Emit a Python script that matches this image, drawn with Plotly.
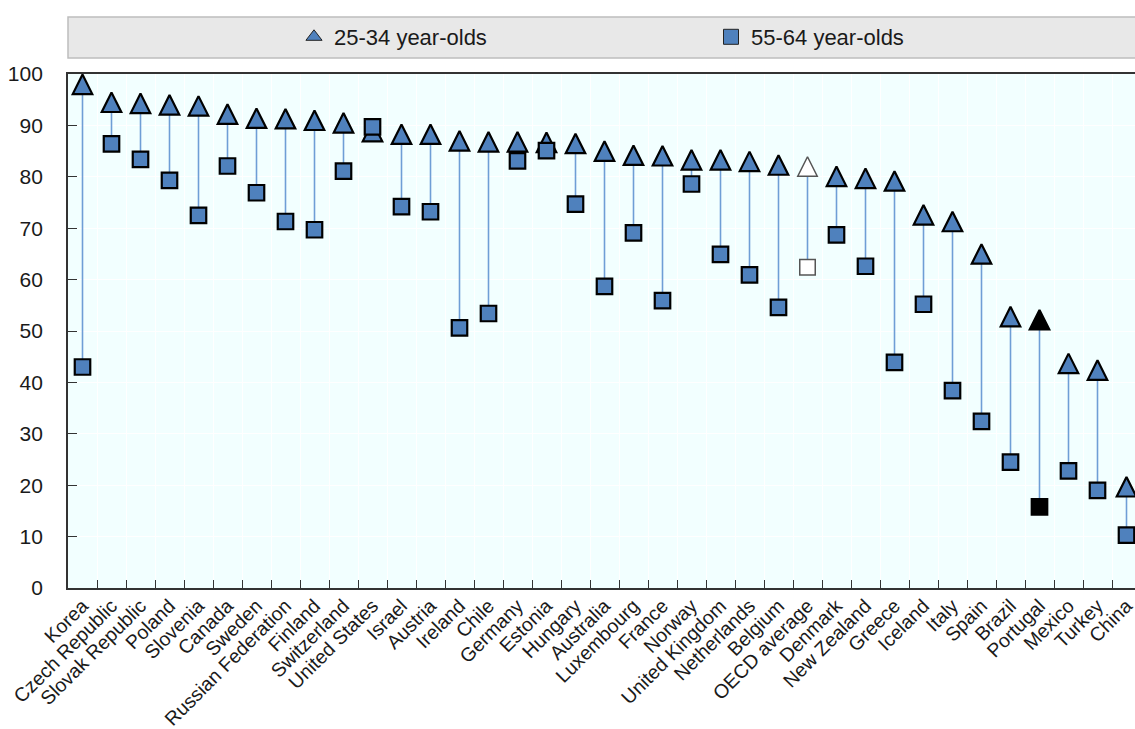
import plotly.graph_objects as go

countries = ["Korea", "Czech Republic", "Slovak Republic", "Poland", "Slovenia", "Canada",
             "Sweden", "Russian Federation", "Finland", "Switzerland", "United States",
             "Israel", "Austria", "Ireland", "Chile", "Germany", "Estonia", "Hungary",
             "Australia", "Luxembourg", "France", "Norway", "United Kingdom", "Netherlands",
             "Belgium", "OECD average", "Denmark", "New Zealand", "Greece", "Iceland",
             "Italy", "Spain", "Brazil", "Portugal", "Mexico", "Turkey", "China"]

age_25_34 = [98.0, 94.5, 94.3, 94.0, 93.8, 92.2, 91.4, 91.3, 91.0, 90.5, 88.8,
             88.3, 88.3, 87.0, 86.8, 86.8, 86.7, 86.5, 85.0, 84.2, 84.1, 83.3,
             83.3, 83.0, 82.3, 82.0, 80.1, 79.7, 79.2, 72.6, 71.3, 65.0, 52.8,
             52.2, 43.7, 42.4, 19.7]

age_55_64 = [43.0, 86.4, 83.4, 79.3, 72.5, 82.1, 76.9, 71.3, 69.7, 81.1, 89.7,
             74.2, 73.2, 50.6, 53.4, 83.1, 85.1, 74.7, 58.7, 69.1, 55.9, 78.6,
             64.9, 60.9, 54.6, 62.4, 68.7, 62.6, 43.9, 55.2, 38.4, 32.4, 24.5,
             15.8, 22.8, 19.0, 10.3]

y_ticks = [0, 10, 20, 30, 40, 50, 60, 70, 80, 90, 100]
series_names = ["25-34 year-olds", "55-64 year-olds"]

BLUE = "#4F81BD"
LINE_BLUE = "#6F9ED6"
FONT = "Liberation Sans, Arial, sans-serif"
TXT = "#1a1a1a"


def fill_for(c):
    if c == "OECD average":
        return "white"
    if c == "Portugal":
        return "black"
    return BLUE


def edge_for(c):
    return "#555555" if c == "OECD average" else "black"


def edge_w(c):
    return 1.5 if c == "OECD average" else 2.2


fills = [fill_for(c) for c in countries]
edges = [edge_for(c) for c in countries]
widths = [edge_w(c) for c in countries]

# connector lines
lx, ly = [], []
for c, a, b in zip(countries, age_25_34, age_55_64):
    lx += [c, c, None]
    ly += [a, b, None]

fig = go.Figure()
fig.add_trace(go.Scatter(x=lx, y=ly, mode="lines", line=dict(color=LINE_BLUE, width=1.6),
                         showlegend=False, hoverinfo="skip"))

TRI = 19.5
fig.add_trace(go.Scatter(
    x=countries, y=age_25_34, mode="markers", showlegend=False, name=series_names[0],
    marker=dict(symbol="arrow-down", angle=180, standoff=TRI / 2, size=TRI,
                color=fills, line=dict(color=edges, width=widths))))
fig.add_trace(go.Scatter(
    x=countries, y=age_55_64, mode="markers", showlegend=False, name=series_names[1],
    marker=dict(symbol="square", size=15.5, color=fills,
                line=dict(color=edges, width=widths))))

# legend entries
fig.add_trace(go.Scatter(x=[None], y=[None], mode="markers", name=series_names[0],
                         marker=dict(symbol="triangle-up", size=14, color=BLUE,
                                     line=dict(color="#222", width=1))))
fig.add_trace(go.Scatter(x=[None], y=[None], mode="markers", name=series_names[1],
                         marker=dict(symbol="square", size=15, color=BLUE,
                                     line=dict(color="#222", width=1))))

W, H = 1135, 729
L, T, B = 68, 74, 141
step = 29.0
PW = W - L
PH = H - T - B
xr_max = -0.5 + PW / step   # the plot runs past the right edge of the picture

fig.update_layout(
    width=W, height=H,
    margin=dict(l=L, r=0, t=T, b=B, autoexpand=False),
    paper_bgcolor="white",
    plot_bgcolor="#F2FFFF",
    font=dict(family=FONT, color=TXT, size=20),
    showlegend=True,
    legend=dict(orientation="h", x=(294 - L) / PW, xanchor="left",
                y=(PH + 37) / PH, yanchor="middle",
                bgcolor="rgba(0,0,0,0)", font=dict(size=22, family=FONT, color=TXT),
                entrywidth=372, itemwidth=30),
    shapes=[dict(type="rect", xref="paper", yref="paper", x0=0, x1=1.02,
                 y0=(PH + 16) / PH, y1=(PH + 57) / PH,
                 fillcolor="#E8E8E8", line=dict(color="#BDBDBD", width=1.5), layer="below")],
)

fig.update_xaxes(
    type="category", range=[-0.5, xr_max], tickson="boundaries",
    ticks="inside", ticklen=8, tickwidth=1.2, tickcolor="#333",
    showgrid=True, gridcolor="white", gridwidth=1,
    showline=True, linecolor="#333", linewidth=1.8, mirror=True,
    tickangle=-45, tickfont=dict(size=19.5, family=FONT, color=TXT),
    ticklabelstandoff=-3,
    zeroline=False,
)
fig.update_yaxes(
    range=[0, 100], tickvals=y_ticks, ticks="inside", ticklen=9, tickwidth=1.2,
    tickcolor="#333", showgrid=True, gridcolor="white", gridwidth=1,
    showline=True, linecolor="#333", linewidth=1.8,
    tickfont=dict(size=21, family=FONT, color=TXT), ticklabelstandoff=19,
    zeroline=False,
)

fig.write_html(
    "out.html",
    config={"displayModeBar": False},
    post_script="document.body.style.margin='0';document.body.style.overflow='hidden';",
)
